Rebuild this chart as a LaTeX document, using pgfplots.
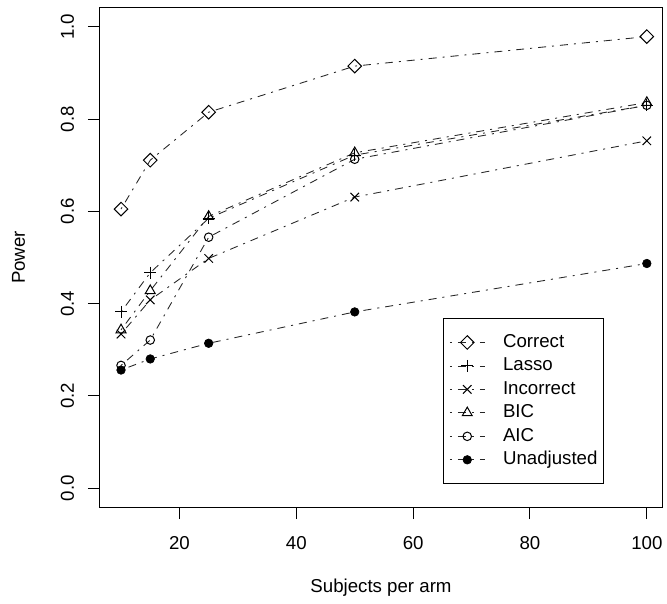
\documentclass[border=0pt]{standalone}
\usepackage{fontspec}
\setmainfont{Liberation Sans}
\usepackage{pgfplots}
\pgfplotsset{compat=1.18}
\begin{document}
\begin{tikzpicture}
\pgfplotsset{
  dd/.style={black!85, line width=0.65pt, dash pattern=on 1.5pt off 4.5pt on 6pt off 4.5pt},
}
\begin{axis}[
  at={(0,0)}, anchor=south west,
  scale only axis, width=421.5pt, height=374.25pt,
  xmin=6.4, xmax=102.6, ymin=-0.041, ymax=1.041,
  axis line style={line width=0.75pt},
  tick align=outside, major tick length=9pt,
  tick style={black, line width=0.75pt},
  xtick={20,40,60,80,100}, ytick={0,0.2,0.4,0.6,0.8,1.0},
  xtick pos=bottom, ytick pos=left,
  font=\fontsize{14}{16}\selectfont,
  /pgf/number format/assume math mode=true,
  yticklabel={\pgfmathprintnumber[fixed,fixed zerofill,precision=1]{\tick}},
  xticklabel style={anchor=base, yshift=-22.5pt, inner sep=0pt},
  yticklabel style={rotate=90, anchor=base, yshift=10.5pt, inner sep=0pt},
  xlabel={Subjects per arm}, ylabel={Power},
  xlabel style={at={(axis description cs:0.5,-0.17234)}, anchor=base, inner sep=0pt},
  ylabel style={at={(axis description cs:-0.13345,0.5)}, anchor=base, rotate=0, inner sep=0pt},
  legend style={at={(axis description cs:0.6103,0.3788)}, anchor=north west,
    draw=black, line width=0.75pt, inner xsep=4.5pt, inner ysep=11.5pt,
    row sep=4.6pt, column sep=13.5pt,
    font=\fontsize{14}{16}\selectfont,
    nodes={inner sep=0pt, text height=10pt, text depth=3pt}},
  legend cell align=left,
  legend image code/.code={
    \draw[mark repeat=2,mark phase=2,#1] plot coordinates {(0pt,0pt) (13pt,0pt) (26pt,0pt)};
  },
]
\addplot[dd, mark=square, mark size=3.6pt, mark options={black, solid, rotate=45, line width=0.75pt}]
  coordinates {(10,0.605) (15,0.711) (25,0.815) (50,0.915) (100,0.979)};
\addlegendentry{Correct}
\addplot[dd, mark=+, mark size=4.5pt, mark options={black, solid, line width=0.75pt}]
  coordinates {(10,0.382) (15,0.467) (25,0.585) (50,0.722) (100,0.830)};
\addlegendentry{Lasso}
\addplot[dd, mark=x, mark size=4.5pt, mark options={black, solid, line width=0.75pt}]
  coordinates {(10,0.334) (15,0.408) (25,0.498) (50,0.631) (100,0.753)};
\addlegendentry{Incorrect}
\addplot[dd, mark=triangle, mark size=4.3pt, mark options={black, solid, line width=0.75pt}]
  coordinates {(10,0.343) (15,0.428) (25,0.589) (50,0.727) (100,0.836)};
\addlegendentry{BIC}
\addplot[dd, mark=o, mark size=3.2pt, mark options={black, solid, line width=0.75pt}]
  coordinates {(10,0.266) (15,0.321) (25,0.544) (50,0.713) (100,0.830)};
\addlegendentry{AIC}
\addplot[dd, mark=*, mark size=3.2pt, mark options={black, solid, fill=black, line width=0.5pt}]
  coordinates {(10,0.256) (15,0.280) (25,0.314) (50,0.382) (100,0.487)};
\addlegendentry{Unadjusted}
\end{axis}
\pgfresetboundingbox
\path (-75pt,-72pt) rectangle (425.25pt,380.25pt);
\end{tikzpicture}
\end{document}
